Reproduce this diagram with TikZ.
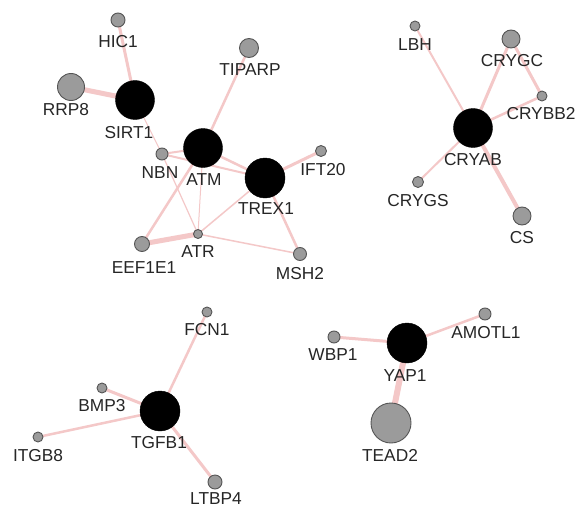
\documentclass[tikz,border=0pt]{standalone}
\usepackage{fontspec}
\setmainfont{Liberation Sans}
\usetikzlibrary{backgrounds}
\definecolor{edgepink}{RGB}{244,200,200}
\definecolor{nodegray}{RGB}{155,155,155}
\definecolor{rimgray}{RGB}{85,85,85}
\tikzset{
  hub/.style={circle, fill=black, draw=black, inner sep=0pt, minimum size=#1},
  leaf/.style={circle, fill=nodegray, draw=rimgray, line width=0.9pt, inner sep=0pt, minimum size=#1},
  lbl/.style={inner sep=0pt, anchor=center, text=black!85, font=\fontsize{17.3}{19}\selectfont},
  link/.style={draw=edgepink, line width=#1, line cap=round},
}
\begin{document}
\begin{tikzpicture}[x=1pt, y=-1pt]
\useasboundingbox (0,0) rectangle (577,508);

% ---- DNA damage cluster ----
\node[leaf=14pt] (HIC1)   at (118,20)  {};
\node[leaf=27pt] (RRP8)   at (71,87)   {};
\node[hub=39pt]  (SIRT1)  at (135,100) {};
\node[leaf=19pt] (TIPARP) at (249,48)  {};
\node[hub=39pt]  (ATM)    at (203,148) {};
\node[leaf=12pt] (NBN)    at (162,154) {};
\node[hub=40pt]  (TREX1)  at (265,178) {};
\node[leaf=11pt] (IFT20)  at (321,151) {};
\node[leaf=9pt]  (ATR)    at (198,234) {};
\node[leaf=15pt] (EEF1E1) at (142,244) {};
\node[leaf=13pt] (MSH2)   at (300,254) {};

\node[lbl] (HIC1-l)   at (118,42)  {HIC1};
\node[lbl] (RRP8-l)   at (66,110)  {RRP8};
\node[lbl] (SIRT1-l)  at (129,133) {SIRT1};
\node[lbl] (TIPARP-l) at (250,70)  {TIPARP};
\node[lbl] (ATM-l)    at (204,180) {ATM};
\node[lbl] (NBN-l)    at (160,173) {NBN};
\node[lbl] (TREX1-l)  at (266,209) {TREX1};
\node[lbl] (IFT20-l)  at (323,170) {IFT20};
\node[lbl] (ATR-l)    at (198,252) {ATR};
\node[lbl] (EEF1E1-l) at (144,268) {EEF1E1};
\node[lbl] (MSH2-l)   at (300,274) {MSH2};

% ---- crystallin cluster ----
\node[leaf=10pt] (LBH)    at (415,26)  {};
\node[leaf=18pt] (CRYGC)  at (511,39)  {};
\node[leaf=10pt] (CRYBB2) at (542,96)  {};
\node[hub=39pt]  (CRYAB)  at (473,128) {};
\node[leaf=11pt] (CRYGS)  at (418,182) {};
\node[leaf=18pt] (CS)     at (522,216) {};

\node[lbl] (LBH-l)    at (415,45)  {LBH};
\node[lbl] (CRYGC-l)  at (512,61)  {CRYGC};
\node[lbl] (CRYBB2-l) at (541,114) {CRYBB2};
\node[lbl] (CRYAB-l)  at (473,160) {CRYAB};
\node[lbl] (CRYGS-l)  at (418,201) {CRYGS};
\node[lbl] (CS-l)     at (522,238) {CS};

% ---- TGF-beta cluster ----
\node[leaf=10pt] (FCN1)  at (207,312) {};
\node[leaf=10pt] (BMP3)  at (102,388) {};
\node[hub=40pt]  (TGFB1) at (160,411) {};
\node[leaf=10pt] (ITGB8) at (38,437)  {};
\node[leaf=14pt] (LTBP4) at (215,482) {};

\node[lbl] (FCN1-l)  at (207,330) {FCN1};
\node[lbl] (BMP3-l)  at (102,406) {BMP3};
\node[lbl] (TGFB1-l) at (159,443) {TGFB1};
\node[lbl] (ITGB8-l) at (38,456)  {ITGB8};
\node[lbl] (LTBP4-l) at (216,499) {LTBP4};

% ---- Hippo cluster ----
\node[leaf=12pt] (WBP1)   at (334,337) {};
\node[hub=40pt]  (YAP1)   at (407,343) {};
\node[leaf=12pt] (AMOTL1) at (485,314) {};
\node[leaf=40pt] (TEAD2)  at (391,423) {};

\node[lbl] (WBP1-l)   at (333,355) {WBP1};
\node[lbl] (YAP1-l)   at (405,376) {YAP1};
\node[lbl] (AMOTL1-l) at (486,333) {AMOTL1};
\node[lbl] (TEAD2-l)  at (390,455) {TEAD2};

% ---- interactions, drawn beneath the nodes ----
\begin{scope}[on background layer]
\fill[white] (0,0) rectangle (577,508);
\draw[link=3pt]   (HIC1.center)   -- (SIRT1.center);
\draw[link=5pt]   (RRP8.center)   -- (SIRT1.center);
\draw[link=1pt]   (SIRT1.center)  -- (NBN.center);
\draw[link=2.5pt] (TIPARP.center) -- (ATM.center);
\draw[link=2pt]   (NBN.center)    -- (ATM.center);
\draw[link=2pt]   (NBN.center)    -- (TREX1.center);
\draw[link=2.5pt] (ATM.center)    -- (TREX1.center);
\draw[link=3pt]   (TREX1.center)  -- (IFT20.center);
\draw[link=2.5pt] (ATM.center)    -- (EEF1E1.center);
\draw[link=1.2pt] (NBN.center)    -- (ATR.center);
\draw[link=1pt]   (ATM.center)    -- (ATR.center);
\draw[link=1.5pt] (TREX1.center)  -- (ATR.center);
\draw[link=5pt]   (EEF1E1.center) -- (ATR.center);
\draw[link=1.5pt] (ATR.center)    -- (MSH2.center);
\draw[link=2.5pt] (TREX1.center)  -- (MSH2.center);

\draw[link=2pt]   (LBH.center)    -- (CRYAB.center);
\draw[link=3pt]   (CRYGC.center)  -- (CRYAB.center);
\draw[link=3pt]   (CRYGC.center)  -- (CRYBB2.center);
\draw[link=2.5pt] (CRYBB2.center) -- (CRYAB.center);
\draw[link=2pt]   (CRYGS.center)  -- (CRYAB.center);
\draw[link=4pt]   (CS.center)     -- (CRYAB.center);

\draw[link=2.5pt] (FCN1.center)   -- (TGFB1.center);
\draw[link=3pt]   (BMP3.center)   -- (TGFB1.center);
\draw[link=2.5pt] (ITGB8.center)  -- (TGFB1.center);
\draw[link=3pt]   (LTBP4.center)  -- (TGFB1.center);

\draw[link=3pt]   (WBP1.center)   -- (YAP1.center);
\draw[link=2.5pt] (AMOTL1.center) -- (YAP1.center);
\draw[link=6pt]   (TEAD2.center)  -- (YAP1.center);
\end{scope}
\end{tikzpicture}
\end{document}
